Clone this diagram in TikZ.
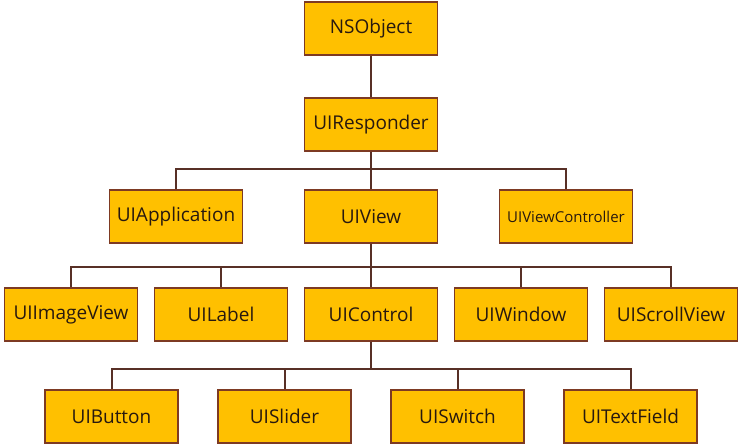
\documentclass[tikz,border=0pt]{standalone}
\usepackage{fontspec}
\setmainfont{Open Sans}
\usetikzlibrary{shapes}
\definecolor{boxfill}{HTML}{FFC000}
\definecolor{boxline}{RGB}{125,58,35}
\definecolor{wire}{RGB}{88,48,38}
\definecolor{boxtext}{RGB}{40,25,15}

\begin{document}
\begin{tikzpicture}[x=1pt,y=1pt,level 1/.style={level distance=96pt},level 2/.style={level distance=92pt,sibling distance=195pt},level 3/.style={level distance=98pt,sibling distance=150pt},level 4/.style={level distance=102pt,sibling distance=173pt},every node/.style = {draw=boxline, line width=1.6pt, fill=boxfill, text=boxtext, shape=rectangle, minimum width=133pt, minimum height=53pt, inner sep=0pt, font=\fontsize{19}{21}\selectfont},edge from parent/.style={draw=wire, line width=2pt},edge from parent path={(\tikzparentnode.south) |- ([yshift=20pt]\tikzchildnode.north) -- (\tikzchildnode.north)}]
\useasboundingbox (0,0) rectangle (740,-446);
\node(nsobject) at (371,-28.5) {NSObject}
child { node (responder) {UIResponder}
  child { node (application) {UIApplication} }
  child { node (view) {UIView}
    child { node (imageview) {UIImageView} }
    child { node (label) {UILabel} }
    child { node (control) {UIControl}
      child { node (button) {UIButton} }
      child { node (slider) {UISlider} }
      child { node (switch) {UISwitch} }
      child { node (textfield) {UITextField} }
    }
    child { node (window) {UIWindow} }
    child { node (scrollview) {UIScrollView} }
  }
  child { node (viewcontroller) {\fontsize{15}{17}\selectfont UIViewController} }
};
\end{tikzpicture}
\end{document}
